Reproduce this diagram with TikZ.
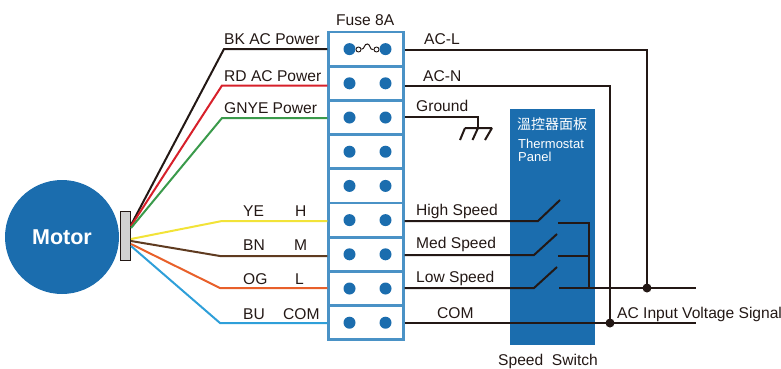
\documentclass[tikz,border=0pt]{standalone}
\usepackage{fontspec}
\usepackage{xcolor}
\setmainfont{Liberation Sans}
\newfontfamily\cjk{Noto Sans CJK TC}
\definecolor{panelblue}{HTML}{1B6DAE}
\definecolor{cellblue}{HTML}{4A92C6}
\definecolor{wireblack}{HTML}{231815}
\definecolor{wirered}{HTML}{D7202A}
\definecolor{wiregreen}{HTML}{3A9A4B}
\definecolor{wireyellow}{HTML}{F2E338}
\definecolor{wirebrown}{HTML}{5F3B20}
\definecolor{wireorange}{HTML}{E8602A}
\definecolor{wirecyan}{HTML}{2E9FD9}
\tikzset{
 cell/.style={draw=cellblue,line width=2.8pt,fill=white,minimum width=74.5pt,minimum height=34.2pt,inner sep=0pt},
 dot/.style={circle,fill=panelblue,minimum size=12pt,inner sep=0pt},
 joint/.style={circle,fill=wireblack,minimum size=9pt,inner sep=0pt},
 lug/.style={circle,draw=wireblack,line width=0.9pt,fill=white,minimum size=5pt,inner sep=0pt},
 wire/.style={line width=2pt,line join=miter},
 lab/.style={font=\fontsize{15.6}{15.6}\selectfont,text=wireblack,anchor=base west,inner sep=0pt},
 panellab/.style={font=\fontsize{13}{13}\selectfont,text=white,anchor=base west,inner sep=0pt}
}
\begin{document}
\begin{tikzpicture}[x=1pt,y=-1pt]
 \useasboundingbox (0,0) rectangle (781,368);

 % thermostat panel and motor
 \node[fill=panelblue,minimum width=85pt,minimum height=236pt,inner sep=0pt] (panel) at (552.5,227) {};
 \node[circle,fill=panelblue,minimum size=114pt,inner sep=0pt,text=white,font=\fontsize{21.5}{21.5}\selectfont\bfseries] (motor) at (62,237) {Motor};
 \node[draw=wireblack,line width=1pt,fill=black!18,minimum width=10pt,minimum height=49pt,inner sep=0pt] (plug) at (125.5,236) {};

 % terminal block
 \foreach \n/\y in {1/49.1,2/83.3,3/117.5,4/151.7,5/185.9,6/220.1,7/254.3,8/288.5,9/322.7}{
  \node[cell] (row\n) at (366,\y) {};
  \node[dot] (lft\n) at (349.5,\y) {};
  \node[dot] (rgt\n) at (385.5,\y) {};
 }

 % fuse
 \node[lug] (fusea) at (358.5,49.5) {};
 \node[lug] (fuseb) at (376.5,49.5) {};
 \draw[line width=1pt,wireblack] (fusea) .. controls (365,49) and (364,43.5) .. (367.5,44) .. controls (371,44.5) and (369,50) .. (fuseb);

 % bend points
 \foreach \n/\x/\y in {bk/224/49,rd/222/85.5,gn/222/118,ye/222/221,bn/220/256,og/220/288,bu/220/323,
  acl/647/50,acn/610/85.5,gnd/478/117,gndb/478/128,hia/538/221,hib/560/200,meda/534/255,medb/557/234,
  lowa/534/288,lowb/557/267,hic/558/223,busa/589/223,medc/558/256,busb/589/256,busc/589/288,lowc/559/288,
  outa/696/288,outb/696/323,g1/465/128,g2/492/128,g3/460/140,g4/472.5/140,g5/485/140}{
  \coordinate (\n) at (\x,\y);
 }

 % motor leads
 \draw[wire,wireblack] (131,225) -- (bk) -- (bk -| row1.west);
 \draw[wire,wirered] (131,226) -- (rd) -- (rd -| row2.west);
 \draw[wire,wiregreen] (131,228) -- (gn) -- (gn -| row3.west);
 \draw[wire,wireyellow] (131,239) -- (ye) -- (ye -| row6.west);
 \draw[wire,wirebrown] (131,241) -- (bn) -- (bn -| row7.west);
 \draw[wire,wireorange] (131,244) -- (og) -- (og -| row8.west);
 \draw[wire,wirecyan] (131,246) -- (bu) -- (bu -| row9.west);

 % line side
 \draw[wire,wireblack] (acl -| row1.east) -- (acl) -- (busc -| acl);
 \draw[wire,wireblack] (acn -| row2.east) -- (acn) -- (outb -| acn);
 \draw[wire,wireblack] (gnd -| row3.east) -- (gnd) -- (gndb);
 \draw[wire,wireblack] (g1) -- (g2) (g1) -- (g3) (gndb) -- (g4) (g2) -- (g5);

 % switches
 \draw[wire,wireblack] (hia -| row6.east) -- (hia) -- (hib);
 \draw[wire,wireblack] (meda -| row7.east) -- (meda) -- (medb);
 \draw[wire,wireblack] (lowa -| row8.east) -- (lowa) -- (lowb);
 \draw[wire,wireblack] (hic) -- (busa) -- (busc);
 \draw[wire,wireblack] (medc) -- (busb);
 \draw[wire,wireblack] (lowc) -- (outa);
 \draw[wire,wireblack] (outb -| row9.east) -- (outb);
 \node[joint] (jointl) at (busc -| acl) {};
 \node[joint] (jointn) at (outb -| acn) {};

 % labels
 \foreach \x/\y/\t in {224/44/BK AC Power,224/81/RD AC Power,224/113/GNYE Power,
  243/216/YE,295/216/H,243/250/BN,294/250/M,243/284/OG,295/284/L,243/319/BU,283/319/COM,
  336/25/Fuse 8A,424/44/AC-L,423/81/AC-N,416/111/Ground,416/215/High Speed,416/248/Med Speed,416/282/Low Speed,
  437/318/COM,617/318/AC Input Voltage Signal,498/365/Speed\ \ Switch}{
  \node[lab] at (\x,\y) {\t};
 }
 \node[panellab,font=\fontsize{14}{14}\selectfont] (titlecn) at (517,129) {\cjk 溫控器面板};
 \node[panellab] (titleen) at (518,148) {Thermostat};
 \node[panellab] (titleena) at (518,161) {Panel};
\end{tikzpicture}
\end{document}
